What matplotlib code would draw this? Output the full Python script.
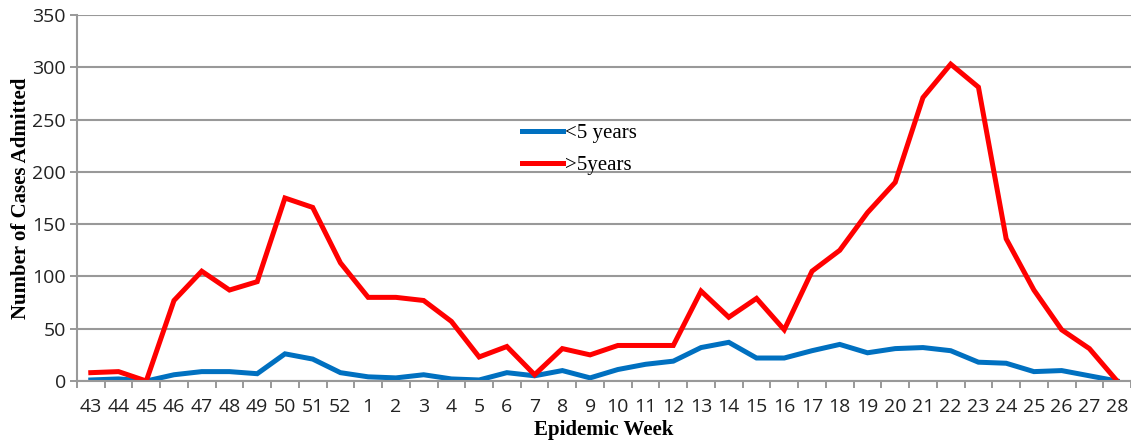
import matplotlib.pyplot as plt
import numpy as np

weeks = ["43", "44", "45", "46", "47", "48", "49", "50", "51", "52",
         "1", "2", "3", "4", "5", "6", "7", "8", "9", "10", "11", "12", "13", "14",
         "15", "16", "17", "18", "19", "20", "21", "22", "23", "24", "25", "26", "27", "28"]
under5 = [1, 2, 0, 6, 9, 9, 7, 26, 21, 8,
          4, 3, 6, 2, 1, 8, 5, 10, 3, 11, 16, 19, 32, 37,
          22, 22, 29, 35, 27, 31, 32, 29, 18, 17, 9, 10, 5, 0]
over5 = [8, 9, 0, 77, 105, 87, 95, 175, 166, 113,
         80, 80, 77, 57, 23, 33, 6, 31, 25, 34, 34, 34, 86, 61,
         79, 49, 105, 125, 161, 190, 271, 303, 281, 136, 87, 49, 31, 0]

x = np.arange(len(weeks))

fig = plt.figure(figsize=(11.31, 4.41), dpi=100)
ax = fig.add_axes([0.068, 0.136, 0.932, 0.830])

ax.plot(x, under5, color="#0070C0", linewidth=3.6, label="<5 years", solid_joinstyle="miter")
ax.plot(x, over5, color="#FF0000", linewidth=3.6, label=">5years", solid_joinstyle="miter")

ax.set_xlim(-0.5, len(weeks) - 0.5)
ax.set_ylim(0, 350)
ax.set_yticks(range(0, 351, 50))
ax.set_xticks(x)
ax.set_xticklabels(weeks)
ax.set_xticks(np.arange(-0.5, len(weeks), 1), minor=True)
ax.tick_params(axis="x", which="major", length=0, pad=12, labelsize=14)
ax.tick_params(axis="x", which="minor", length=5, width=1.2, color="#888888", direction="out")
ax.tick_params(axis="y", length=5, width=1.2, color="#888888", labelsize=14, pad=3)
for lab in ax.get_xticklabels() + ax.get_yticklabels():
    lab.set_family("Open Sans")
    lab.set_color("#222222")

ax.yaxis.grid(True, color="#999999", linewidth=1.5)
ax.set_axisbelow(True)
for s in ["top", "right"]:
    ax.spines[s].set_visible(False)
ax.spines["left"].set_color("#999999")
ax.spines["bottom"].set_color("#999999")
ax.spines["left"].set_linewidth(1.5)
ax.spines["bottom"].set_linewidth(1.5)

ax.set_xlabel("Epidemic Week", family="Liberation Serif", fontweight="bold", fontsize=15, labelpad=3)
ax.set_ylabel("Number of Cases Admitted", family="Liberation Serif", fontweight="bold", fontsize=15, labelpad=1)

leg = ax.legend(loc="upper left", bbox_to_anchor=(0.404, 0.754), frameon=False,
                prop={"family": "Liberation Serif", "size": 15},
                handlelength=2.0, handletextpad=0.1, labelspacing=0.6)

fig.savefig("out.png", dpi=100)
